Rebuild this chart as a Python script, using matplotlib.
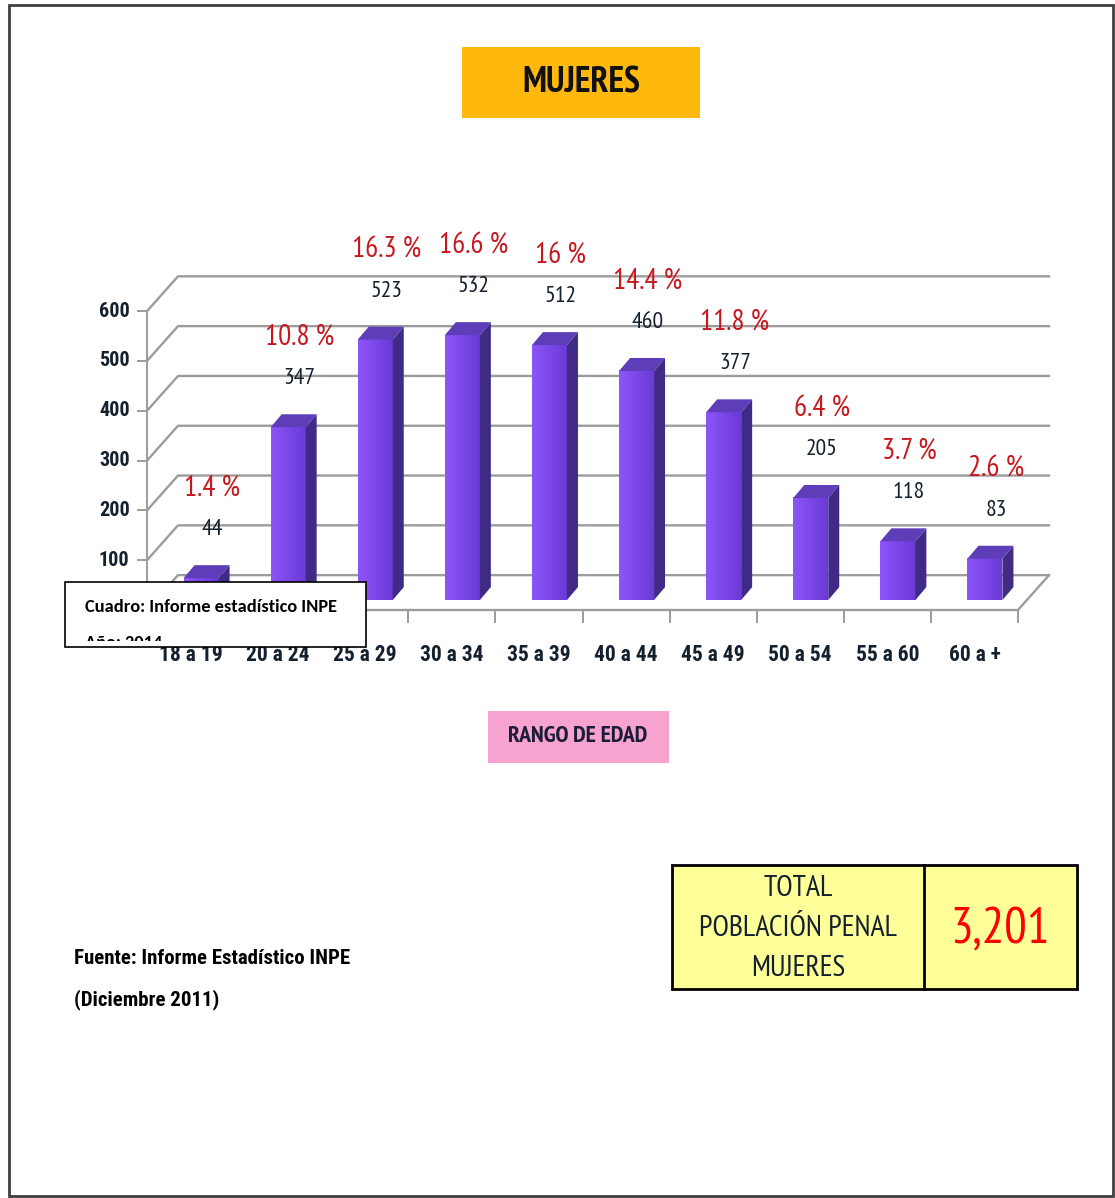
import numpy as np
import matplotlib
matplotlib.use('Agg')
import matplotlib.pyplot as plt
from matplotlib.patches import Rectangle, Polygon

# datos
rangos = ['18 a 19', '20 a 24', '25 a 29', '30 a 34', '35 a 39',
          '40 a 44', '45 a 49', '50 a 54', '55 a 60', '60 a +']
cantidades = [44, 347, 523, 532, 512, 460, 377, 205, 118, 83]
porcentajes = ['1.4 %', '10.8 %', '16.3 %', '16.6 %', '16 %',
               '14.4 %', '11.8 %', '6.4 %', '3.7 %', '2.6 %']
ticks_y = [100, 200, 300, 400, 500, 600]
lineas_total = ['TOTAL', 'POBLACIÓN PENAL', 'MUJERES']
total = '3,201'

# fuentes (con respaldo)
CAL = ['PT Sans Narrow', 'Liberation Sans']
ARN = ['Roboto Condensed', 'Liberation Sans']
CARL = ['Carlito', 'Lato', 'DejaVu Sans']
azul = '#14202e'

W, H = 1115, 1198
fig = plt.figure(figsize=(W / 100, H / 100), dpi=100)

def fx(px):
    return px / W

def fy(py):
    return 1 - py / H

def caja_fig(x0, y0, x1, y1, **kw):
    r = Rectangle((fx(x0), fy(y1)), fx(x1) - fx(x0), fy(y0) - fy(y1),
                  transform=fig.transFigure, **kw)
    fig.patches.append(r)
    return r

# marco exterior
caja_fig(9, 5, 1113, 1196, fill=False, edgecolor='#404040', linewidth=2)

# ejes en pixeles: x 100..1060, y 230..640
ax = fig.add_axes([fx(100), fy(640), fx(1060) - fx(100), fy(230) - fy(640)])
px_cat = 87.1
px_val = 0.498
ax.set_xlim(-0.5 - 47 / px_cat, -0.5 + 913 / px_cat)
ax.set_ylim(-30 / px_val, 380 / px_val)
ax.axis('off')

# profundidad
dxb, dyb = 31 / px_cat, 70          # pared del fondo
bx, by = 10.5 / px_cat, 20          # posicion de las barras
ddx, ddy = 11 / px_cat, 26          # grosor de la barra
ancho = 35 / px_cat
n = len(rangos)
x0, x1 = -0.5, n - 0.5
gris = '#9c9c9c'

# cuadricula
for t in [0] + ticks_y:
    ax.plot([x0, x0 + dxb, x1 + dxb], [t, t + dyb, t + dyb], color=gris, lw=1.7, zorder=1)
    ax.plot([x0 - 0.1, x0], [t, t], color=gris, lw=1.4, zorder=1)
    if t > 0:
        ax.text(x0 - 0.2, t, str(t), ha='right', va='center', fontsize=14.5,
                fontweight='bold', family=ARN, color=azul)
ax.plot([x0, x0], [0, 600], color=gris, lw=1.4, zorder=1)
ax.plot([x0, x1, x1 + dxb], [0, 0, dyb], color=gris, lw=1.7, zorder=1)
for k in range(n + 1):
    ax.plot([x0 + k, x0 + k], [0, -25], color=gris, lw=1.4, zorder=1)

# barras con degradado
grad = np.linspace(0, 1, 64).reshape(1, -1)
cmap = matplotlib.colors.LinearSegmentedColormap.from_list('m', ['#8d55fb', '#6a3ad6'])
for i, v in enumerate(cantidades):
    xl = i + bx - ancho / 2
    xr = xl + ancho
    ax.imshow(grad, cmap=cmap, aspect='auto', extent=(xl, xr, by, by + v), zorder=3)
    ax.add_patch(Polygon([(xr, by), (xr + ddx, by + ddy), (xr + ddx, by + v + ddy), (xr, by + v)],
                         closed=True, facecolor='#3f2a85', edgecolor='none', zorder=3))
    ax.add_patch(Polygon([(xl, by + v), (xr, by + v), (xr + ddx, by + v + ddy), (xl + ddx, by + v + ddy)],
                         closed=True, facecolor='#5d3db8', edgecolor='none', zorder=3))
    ax.text(i + 0.25, v + 117, str(v), ha='center', va='center', fontsize=17,
            family=CAL, color=azul, zorder=4)
    ax.text(i + 0.25, v + 201, porcentajes[i], ha='center', va='center', fontsize=21,
            family=CAL, color='#c8161d', zorder=4)
    ax.text(i, -90, rangos[i], ha='center', va='center', fontsize=15.5, fontweight='bold',
            family=ARN, color=azul)

# titulo
caja_fig(462, 47, 700, 118, facecolor='#ffb80c', edgecolor='none')
fig.text(fx(581), fy(83), 'MUJERES', ha='center', va='center', fontsize=26,
         fontweight='bold', family=CAL, color='#111111')

# rango de edad
caja_fig(488, 711, 669, 763, facecolor='#f6a3cf', edgecolor='none')
fig.text(fx(578), fy(737), 'RANGO DE EDAD', ha='center', va='center', fontsize=17,
         fontweight='bold', family=CAL, color='#1c1c3a')

# recuadro cuadro
caja_fig(65, 582, 366, 647, facecolor='white', edgecolor='black', linewidth=1.2, zorder=5)
fig.text(fx(85), fy(612), 'Cuadro: Informe estadístico INPE', ha='left', va='baseline',
         fontsize=13.2, fontweight='bold', family=CARL, color='black', zorder=6)
recorte = Rectangle((fx(66), fy(641)), fx(365) - fx(66), fy(583) - fy(641),
                    transform=fig.transFigure, visible=False)
fig.patches.append(recorte)
t2 = fig.text(fx(85), fy(648), 'Año: 2014', ha='left', va='baseline', fontsize=13.2,
              fontweight='bold', family=CARL, color='black', zorder=6)
t2.set_clip_path(recorte)
t2.set_clip_on(True)

# fuente
fig.text(fx(74), fy(958), 'Fuente: Informe Estadístico INPE', ha='left', va='center',
         fontsize=15, fontweight='bold', family=ARN, color='black')
fig.text(fx(74), fy(1000), '(Diciembre 2011)', ha='left', va='center',
         fontsize=15, fontweight='bold', family=ARN, color='black')

# total
caja_fig(672, 865, 1077, 989, facecolor='#ffff99', edgecolor='black', linewidth=2)
fig.lines.append(plt.Line2D([fx(924), fx(924)], [fy(989), fy(865)],
                            transform=fig.transFigure, color='black', lw=2))
for k, linea in enumerate(lineas_total):
    fig.text(fx(798), fy(888 + 40 * k), linea, ha='center', va='center',
             fontsize=21.5, family=CAL, color=azul)
fig.text(fx(1000), fy(930), total, ha='center', va='center', fontsize=36,
         family=CAL, color='#ff0000')

fig.savefig('out.png', dpi=100)
